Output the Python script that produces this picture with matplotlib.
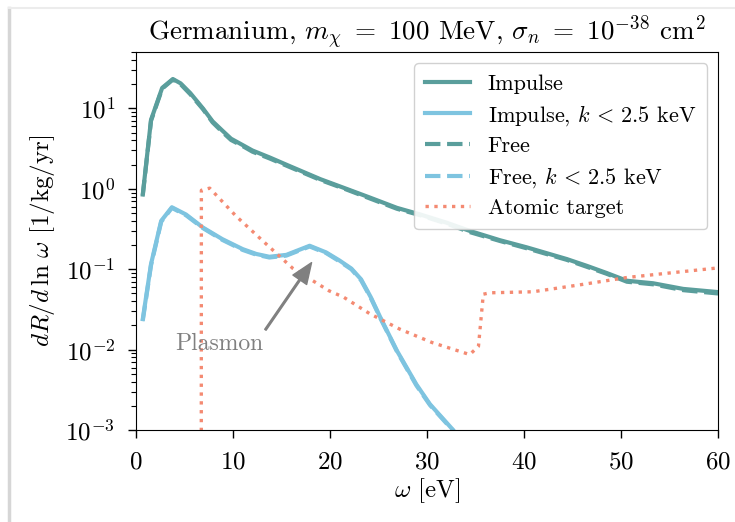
import numpy as np
import matplotlib
matplotlib.use('Agg')
import matplotlib.pyplot as plt
from matplotlib.lines import Line2D

plt.rcParams['font.family'] = 'serif'
plt.rcParams['font.serif'] = ['cmr10']
plt.rcParams['mathtext.fontset'] = 'cm'
plt.rcParams['axes.formatter.use_mathtext'] = True

# energy transfer omega [eV] and rates dR/dln(omega) [1/kg/yr]
omega_imp = [0.7, 1.55, 2.7, 3.8, 4.6, 5.6, 6.9, 7.9, 8.9, 9.8, 11.0, 12.0,
             13.8, 15.7, 19.0, 21.7, 24.1, 26.9, 29.3, 32.0, 34.4, 37.5,
             40.3, 44.4, 46.5, 48.5, 50.6, 53.3, 56.4, 60.0]
rate_imp = [0.85, 7.2, 18.0, 23.2, 20.5, 15.5, 10.0, 6.9, 5.3, 4.2, 3.5, 3.0,
            2.45, 1.95, 1.32, 1.0, 0.78, 0.58, 0.48, 0.38, 0.30, 0.23,
            0.187, 0.134, 0.11, 0.09, 0.072, 0.067, 0.057, 0.052]
rate_free = [0.83, 7.0, 17.6, 22.8, 20.0, 15.0, 9.8, 6.7, 5.1, 4.05, 3.4, 2.9,
             2.38, 1.9, 1.29, 0.98, 0.76, 0.565, 0.47, 0.37, 0.29, 0.225,
             0.182, 0.131, 0.107, 0.088, 0.070, 0.065, 0.055, 0.050]

omega_k = [0.7, 1.55, 2.6, 3.7, 5.15, 6.9, 8.9, 11.0, 12.4, 13.75, 15.5,
           17.9, 19.6, 21.0, 22.2, 23.2, 24.2, 25.2, 26.9, 28.9, 30.3, 32.7, 34.0]
rate_imp_k = [0.024, 0.116, 0.40, 0.59, 0.48, 0.33, 0.237, 0.178, 0.155,
              0.143, 0.151, 0.196, 0.162, 0.128, 0.102, 0.075, 0.045, 0.025,
              0.0097, 0.0037, 0.0021, 0.001, 0.0006]
rate_free_k = [0.023, 0.112, 0.39, 0.58, 0.47, 0.325, 0.232, 0.174, 0.152,
               0.140, 0.148, 0.192, 0.159, 0.125, 0.100, 0.073, 0.044, 0.0245,
               0.0095, 0.0036, 0.00205, 0.00098, 0.0006]

omega_atom = [6.73, 6.74, 7.6, 10.3, 13.06, 16.15, 19.9, 21.4, 24.1, 27.2,
              30.5, 34.4, 35.3, 35.8, 36.5, 40.9, 46.1, 50.6, 55.4, 60.0]
rate_atom = [1e-4, 0.96, 1.02, 0.46, 0.226, 0.103, 0.054, 0.045, 0.028, 0.018,
             0.0123, 0.0087, 0.011, 0.049, 0.051, 0.0525, 0.065, 0.079, 0.091,
             0.104]

c_imp = '#5a9e9c'
c_k = '#7ec4e0'
c_atom = '#f48a72'

fig = plt.figure(figsize=(7.35, 5.22), dpi=100)
ax = fig.add_axes([0.185, 0.176, 0.792, 0.724])

ax.plot(omega_imp, rate_imp, color=c_imp, lw=3.0, label='Impulse')
ax.plot(omega_k, rate_imp_k, color=c_k, lw=3.0, label=r'Impulse, $k\,<\,2.5$ keV')
ax.plot(omega_imp, rate_free, color=c_imp, lw=3.0, ls='--', label='Free')
ax.plot(omega_k, rate_free_k, color=c_k, lw=3.0, ls='--', label=r'Free, $k\,<\,2.5$ keV')
ax.plot(omega_atom, rate_atom, color=c_atom, lw=2.4, ls=':', label='Atomic target')

ax.set_yscale('log')
ax.set_xlim(0, 60)
ax.set_ylim(1e-3, 50)
ax.set_xticks([0, 10, 20, 30, 40, 50, 60])
ax.tick_params(which='major', labelsize=18, length=6, width=1.0)
ax.tick_params(which='minor', length=3.5, width=0.8)
ax.tick_params(axis='y', which='major', pad=9)
ax.tick_params(axis='x', which='major', pad=9)

ax.set_xlabel(r'$\omega$ [eV]', fontsize=18, labelpad=2)
ax.set_ylabel(r'$dR/d\,\ln\,\omega$ [1/kg/yr]', fontsize=18, labelpad=6)
ax.set_title(r'Germanium, $m_\chi\ =\ 100$ MeV, $\sigma_n\ =\ 10^{-38}$ cm$^2$',
             fontsize=19.5, pad=9)

ax.annotate('Plasmon', xy=(18.1, 0.121), xytext=(8.6, 0.0119),
            fontsize=17, color='gray', ha='center', va='center',
            arrowprops=dict(facecolor='gray', edgecolor='gray', width=1.2,
                            headwidth=12, headlength=15, shrink=0.0))

ax.legend(loc='upper right', fontsize=16, handlelength=2.0,
          labelspacing=0.4, borderpad=0.5, framealpha=0.9)

# faint screenshot border
fig.add_artist(Line2D([0.012, 0.012], [0, 0.985], color='#d6d6d6', lw=2.5))
fig.add_artist(Line2D([0.012, 1.0], [0.985, 0.985], color='#ececec', lw=1.5))

fig.savefig('out.png', dpi=100)
